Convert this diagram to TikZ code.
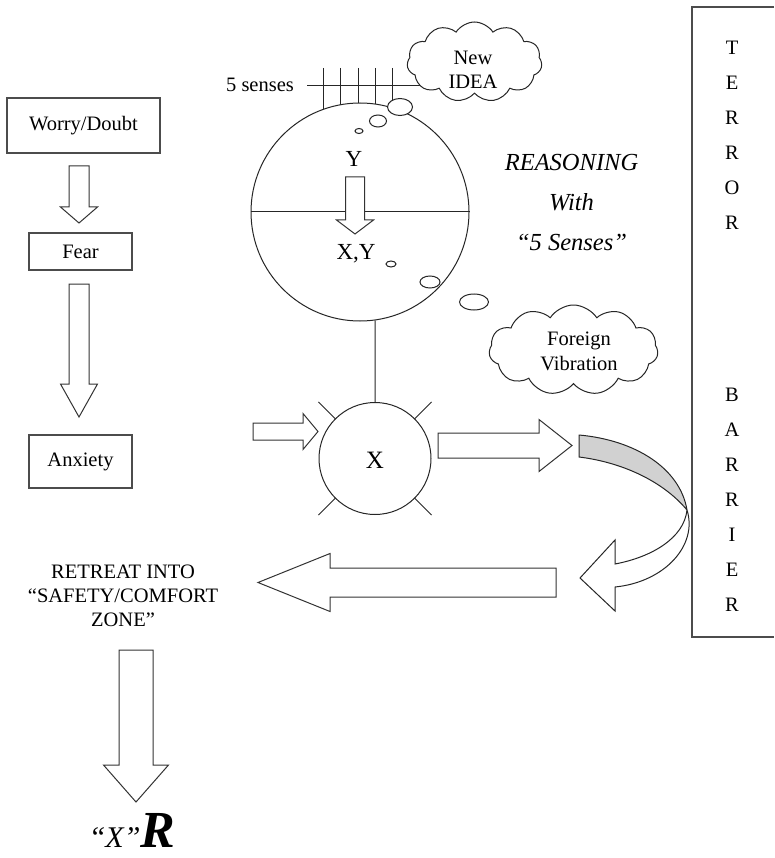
\documentclass[tikz,border=0pt]{standalone}
\usepackage{fontspec}
\setmainfont{Liberation Serif}
\usetikzlibrary{shapes.symbols}

% vertical block arrow: centre x, top y, head start y, tip y, shaft half width, head half width
\newcommand{\vblockarrow}[6]{%
  \draw[blockarrow] (#1-#5,#2) -- (#1+#5,#2) -- (#1+#5,#3) -- (#1+#6,#3)
    -- (#1,#4) -- (#1-#6,#3) -- (#1-#5,#3) -- cycle;}
% horizontal block arrow: centre y, tail x, head start x, tip x, shaft half width, head half width
\newcommand{\hblockarrow}[6]{%
  \draw[blockarrow] (#2,#1-#5) -- (#3,#1-#5) -- (#3,#1-#6) -- (#4,#1)
    -- (#3,#1+#6) -- (#3,#1+#5) -- (#2,#1+#5) -- cycle;}

\begin{document}
\begin{tikzpicture}[x=1pt,y=-1pt,
  line width=1pt, draw=black!85,
  every node/.style={font=\fontsize{20.5}{24}\selectfont, inner sep=0pt},
  stagebox/.style={draw=black!70, line width=1.3pt, fill=white},
  blockarrow/.style={draw=black!80, line width=1pt, fill=white, line join=miter},
  bubble/.style={draw=black!85, line width=1pt, fill=white},
  thought/.style={cloud, draw=black!85, fill=white, line width=1pt, cloud puffs=11,
    cloud puff arc=115, cloud ignores aspect},
  ring/.style={circle, draw=black!85, line width=1pt, fill=white}]
\useasboundingbox (0,0) rectangle (774,858);

% ---- left column: worry -> fear -> anxiety
\node[stagebox, minimum width=153pt, minimum height=55pt] (worry) at (83.5,125.5) {Worry/Doubt};
\node[stagebox, minimum width=103pt, minimum height=37pt] (fear) at (80.5,251.5) {Fear};
\node[stagebox, minimum width=103pt, minimum height=53pt] (anxiety) at (80.5,461.5) {Anxiety};
\vblockarrow{79}{166}{207}{223}{10}{18.5}
\vblockarrow{79}{284}{384}{417}{10}{18.5}

% ---- the five senses feeding the reasoning sphere
\node (senses) at (260,85) {5 senses};
\foreach \tx in {323,340,358,375,392}{
  \draw (\tx,68) -- (\tx,118);
}
\draw (307,86) -- (420,86);

\node[ring, minimum size=218pt] (sphere) at (360,212) {};
\draw (sphere.west) -- (sphere.east);
\vblockarrow{355}{177}{220}{234}{9.5}{18.5}
\node[font=\fontsize{23}{24}\selectfont] (ytext) at (354,159) {Y};
\node[font=\fontsize{23}{24}\selectfont] (xytext) at (356,254) {X,Y};

% thought bubbles
\draw[bubble] (400,107) ellipse (12.5 and 8.5);
\draw[bubble] (378,121) ellipse (8.5 and 6);
\draw[bubble] (359,131) ellipse (4 and 2.5);
\draw[bubble] (391,264) ellipse (5 and 3);
\draw[bubble] (430,282) ellipse (10 and 6);
\draw[bubble] (474,302) ellipse (14.5 and 8);

\node[thought, minimum width=135pt, minimum height=80pt] (idea) at (474.5,62) {};
\node[align=center, font=\fontsize{20.5}{24}\selectfont] (ideatext) at (473,70) {New\\IDEA};

\node[align=center, font=\fontsize{24.5}{40}\selectfont\itshape] (reasoning) at (571.5,203)
  {REASONING\\With\\“5 Senses”};

\node[thought, minimum width=169pt, minimum height=90pt] (foreign) at (573.5,350) {};
\node[align=center, font=\fontsize{20.5}{25}\selectfont] (foreigntext) at (579,351) {Foreign\\Vibration};

% ---- the X ring with its rays
\node[ring, minimum size=112pt] (xring) at (375,458.5) {};
\node[font=\fontsize{25}{26}\selectfont] (xtext) at (375,460) {X};
\draw (xring.north) -- (sphere.-82);
\foreach \a in {45,135,225,315}{
  \draw ([shift={(\a:56)}]xring.center) -- ([shift={(\a:80)}]xring.center);
}
\hblockarrow{431.5}{253}{303}{318}{8.5}{18}
\hblockarrow{445.5}{438}{539}{572}{12.5}{26}

% ---- twisted ribbon bouncing off the barrier
\coordinate (twist) at (687,510);
\draw[fill=black!18, line join=round] (579,435) .. controls (635,440) and (680,468) .. (twist)
  .. controls (662,480) and (620,462) .. (579,457) -- cycle;
\draw[fill=white, line join=miter] (twist) .. controls (698,545) and (665,582) .. (615,587)
  -- (615,611) -- (580,578) -- (615,540) -- (615,564)
  .. controls (652,557) and (684,538) .. (twist);

\hblockarrow{582.5}{556}{330}{258}{14.5}{29}

% ---- retreat
\node[align=center, font=\fontsize{20.5}{24}\selectfont] (retreat) at (123,596)
  {RETREAT INTO\\“SAFETY/COMFORT\\ZONE”};
\vblockarrow{136}{650}{765}{802}{17}{32.5}
\node[anchor=base] (result) at (132,847)
  {{\fontsize{30}{30}\selectfont\itshape “X”}{\fontsize{52}{52}\selectfont\bfseries\itshape R}};

% ---- terror barrier
\draw[draw=black!70, line width=1.3pt] (774,7) -- (692,7) -- (692,637) -- (774,637);
\node[align=center, font=\fontsize{20.5}{35}\selectfont] (terror) at (732,135)
  {T\\E\\R\\R\\O\\R};
\node[align=center, font=\fontsize{20.5}{35}\selectfont] (barrier) at (732,500)
  {B\\A\\R\\R\\I\\E\\R};
\end{tikzpicture}
\end{document}
